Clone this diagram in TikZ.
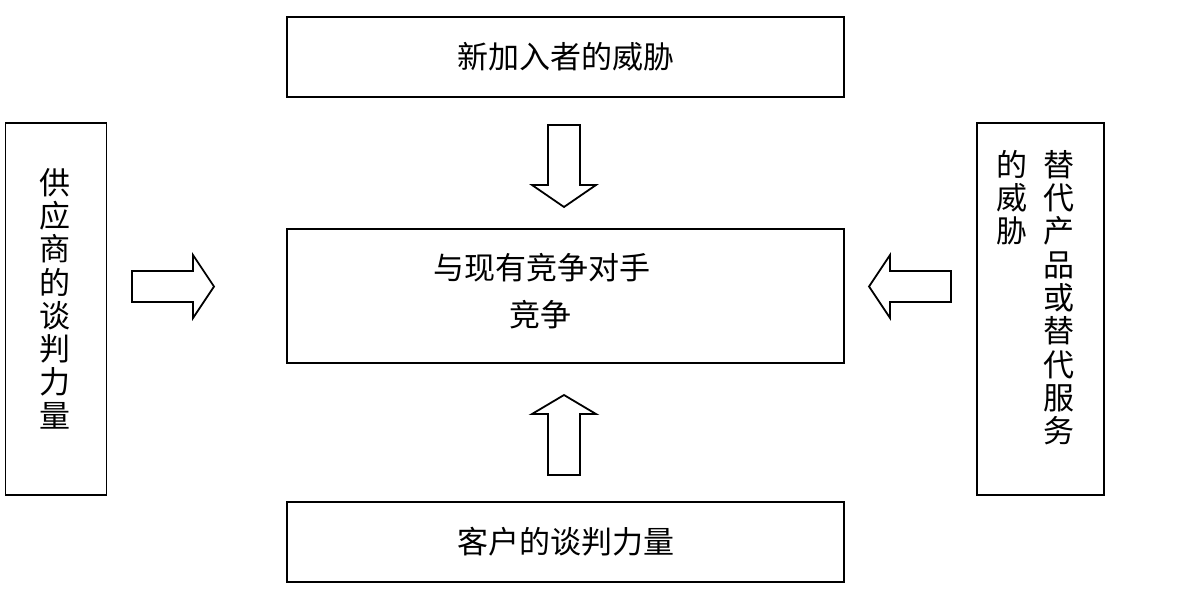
\documentclass[tikz,border=0pt]{standalone}
\usepackage{fontspec}
\setmainfont{Noto Sans CJK SC}
\begin{document}
\begin{tikzpicture}[x=1pt,y=-1pt,
  box/.style={draw,line width=1.8pt,inner sep=0pt},
  blockarrow/.style={draw,line width=1.8pt,line join=miter},
  lbl/.style={font=\fontsize{31}{33.3}\selectfont,inner sep=0pt},
  vlbl/.style={lbl,align=center,anchor=north}]
\useasboundingbox (0,0) rectangle (1184,592);
% boxes
\node[box,minimum width=557,minimum height=80] (newin) at (565.5,57) {};
\node[box,minimum width=557,minimum height=134] (rival) at (565.5,296) {};
\node[box,minimum width=557,minimum height=80] (buyer) at (565.5,542) {};
\node[box,minimum width=101,minimum height=372] (supp) at (56,309) {};
\node[box,minimum width=127,minimum height=372] (subst) at (1040.5,309) {};
% texts
\node[lbl] (tnew) at (newin.center) {新加入者的威胁};
\node[lbl] (tbuy) at (buyer.center) {客户的谈判力量};
\node[lbl] (tr1) at (542,268) {与现有竞争对手};
\node[lbl] (tr2) at (540,315) {竞争};
\node[vlbl] (tsup) at (55,168) {供\\应\\商\\的\\谈\\判\\力\\量};
\node[vlbl] (ts1) at (1059,150) {替\\代\\产\\品\\或\\替\\代\\服\\务};
\node[vlbl] (ts2) at (1012,150) {的\\威\\胁};
% block arrows
\draw[blockarrow] (548,125) -- (580,125) -- (580,185) -- (596,185) -- (564,207) -- (532,185) -- (548,185) -- cycle;
\draw[blockarrow] (548,475) -- (580,475) -- (580,414) -- (596,414) -- (564,395) -- (532,414) -- (548,414) -- cycle;
\draw[blockarrow] (132,271) -- (193,271) -- (193,255) -- (214,286.5) -- (193,318) -- (193,302) -- (132,302) -- cycle;
\draw[blockarrow] (951,271) -- (890,271) -- (890,255) -- (869,286.5) -- (890,318) -- (890,302) -- (951,302) -- cycle;
\end{tikzpicture}
\end{document}
